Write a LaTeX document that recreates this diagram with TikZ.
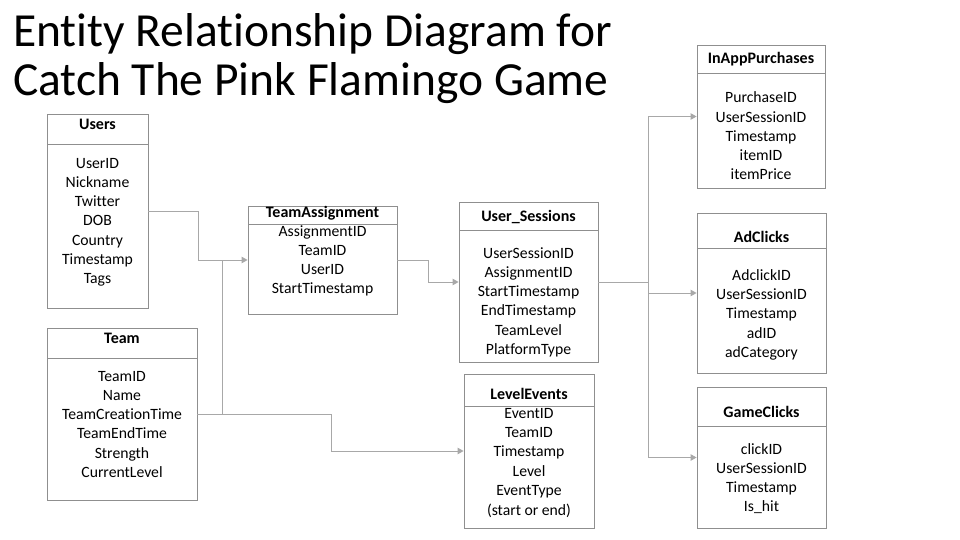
\documentclass[tikz,border=0pt]{standalone}
\usepackage{fontspec}
\setmainfont{Carlito}[Ligatures={NoCommon,NoContextual}]
\usetikzlibrary{arrows.meta,calc}
\definecolor{boxgray}{HTML}{8F8F8F}
\definecolor{linkgray}{HTML}{A8A8A8}
\tikzset{>={Triangle[length=6pt,width=6.5pt]}}
\tikzset{tbl/.style={draw=boxgray,line width=0.9pt,inner sep=0pt},
  hdr/.style={anchor=base,font=\bfseries\fontsize{16}{18}\selectfont},
  fld/.style={anchor=base,inner sep=0pt,font=\fontsize{15.7}{19}\selectfont},
  link/.style={draw=linkgray,line width=1pt}}
\begin{document}
\begin{tikzpicture}[x=1pt,y=-1pt]
\useasboundingbox (0,0) rectangle (960,540);
\node[anchor=base west,align=left,inner sep=0pt,font=\fontsize{47.5}{49}\selectfont] (title) at (13,96) {Entity Relationship Diagram for\\Catch The Pink Flamingo Game};

% Users
\node[tbl,minimum width=101pt,minimum height=194pt] (users) at (97.5,211) {};
\draw[tbl] (47,144) -- (148,144);
\node[hdr] (usersH) at (97.5,130) {Users};
\foreach \f [count=\i from 0] in {UserID,Nickname,Twitter,DOB,Country,Timestamp,Tags}
  \node[fld] (users\i) at (97.5,{168+19.3*\i}) {\f};

% Team
\node[tbl,minimum width=150pt,minimum height=172pt] (team) at (122,414) {};
\draw[tbl] (47,358) -- (197,358);
\node[hdr] (teamH) at (122,343) {Team};
\foreach \f [count=\i from 0] in {TeamID,Name,TeamCreationTime,TeamEndTime,Strength,CurrentLevel}
  \node[fld] (team\i) at (122,{381+19.3*\i}) {\f};

% TeamAssignment
\node[tbl,minimum width=149pt,minimum height=108pt] (tassign) at (322.5,260) {};
\draw[tbl] (248,224) -- (397,224);
\node[hdr] (tassignH) at (322.5,217) {TeamAssignment};
\foreach \f [count=\i from 0] in {AssignmentID,TeamID,UserID,StartTimestamp}
  \node[fld] (tassign\i) at (322.5,{236+19.3*\i}) {\f};

% User_Sessions
\node[tbl,minimum width=139pt,minimum height=160pt] (usess) at (528.5,282) {};
\draw[tbl] (459,230) -- (598,230);
\node[hdr] (usessH) at (528.5,221) {User\_Sessions};
\foreach \f [count=\i from 0] in {UserSessionID,AssignmentID,StartTimestamp,EndTimestamp,TeamLevel,PlatformType}
  \node[fld] (usess\i) at (528.5,{258+19.3*\i}) {\f};

% LevelEvents
\node[tbl,minimum width=130pt,minimum height=154pt] (levev) at (529,451) {};
\draw[tbl] (464,406) -- (594,406);
\node[hdr] (levevH) at (529,399) {LevelEvents};
\foreach \f [count=\i from 0] in {EventID,TeamID,Timestamp,Level,EventType,(start or end)}
  \node[fld] (levev\i) at (529,{418+19.4*\i}) {\f};

% InAppPurchases
\node[tbl,minimum width=128pt,minimum height=143pt] (inapp) at (761,116.5) {};
\draw[tbl] (697,73) -- (825,73);
\node[hdr] (inappH) at (761,64) {InAppPurchases};
\foreach \f [count=\i from 0] in {PurchaseID,UserSessionID,Timestamp,itemID,itemPrice}
  \node[fld] (inapp\i) at (761,{103+19.2*\i}) {\f};

% AdClicks
\node[tbl,minimum width=129pt,minimum height=160pt] (adclk) at (761.5,293) {};
\draw[tbl] (697,248) -- (826,248);
\node[hdr] (adclkH) at (761.5,242) {AdClicks};
\foreach \f [count=\i from 0] in {AdclickID,UserSessionID,Timestamp,adID,adCategory}
  \node[fld] (adclk\i) at (761.5,{280+19.4*\i}) {\f};

% GameClicks
\node[tbl,minimum width=129pt,minimum height=141pt] (gmclk) at (761.5,457.5) {};
\draw[tbl] (697,426) -- (826,426);
\node[hdr] (gmclkH) at (761.5,417) {GameClicks};
\foreach \f [count=\i from 0] in {clickID,UserSessionID,Timestamp,Is\_hit}
  \node[fld] (gmclk\i) at (761.5,{454+19.1*\i}) {\f};

% connectors
\draw[link,->] (users.east) -- ++(50,0) |- (tassign.west);
\draw[link] (team.east) -| ($(tassign.west)+(-25,0)$);
\draw[link,->] (team.east) -- ++(134,0) |- (levev.west);
\draw[link,->] (tassign.east) -- ++(31,0) |- (usess.west);
\draw[link,->] (usess.east) -- ++(50,0) |- (inapp.west);
\draw[link,->] (usess.east) -- ++(50,0) |- (adclk.west);
\draw[link,->] (usess.east) -- ++(50,0) |- (gmclk.west);
\end{tikzpicture}
\end{document}
